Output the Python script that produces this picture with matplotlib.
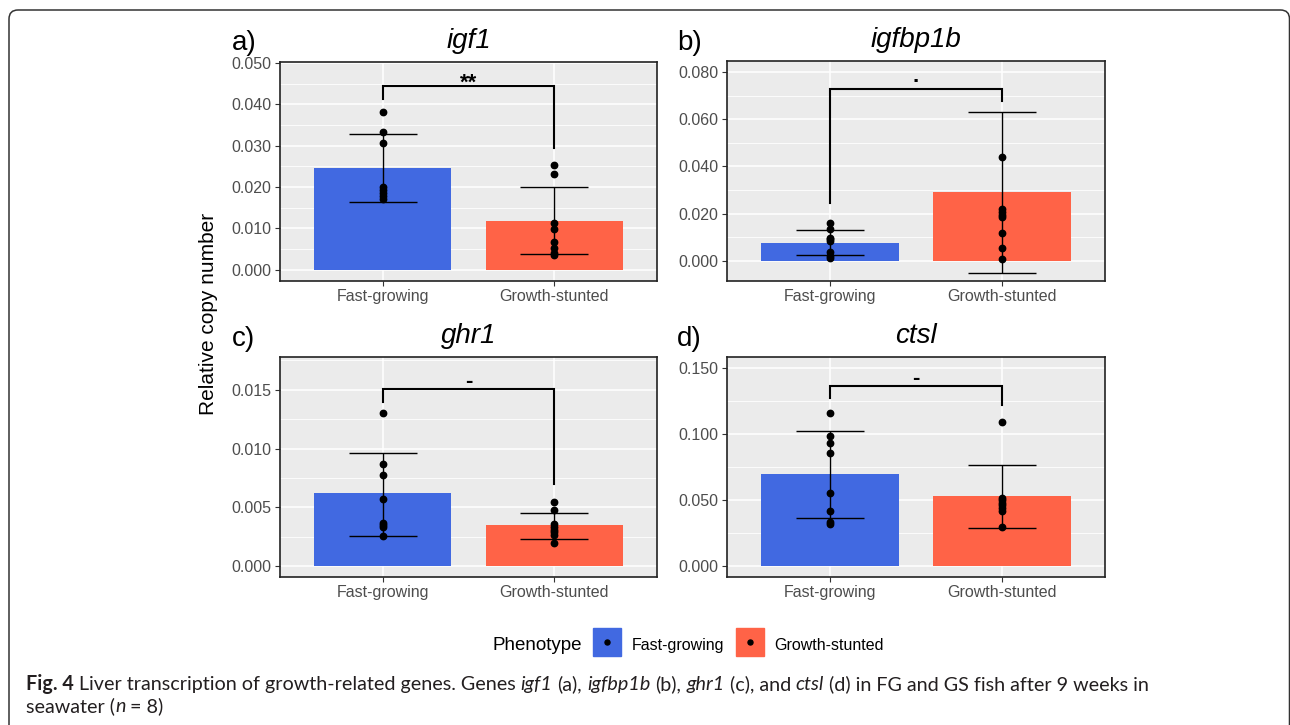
import numpy as np
import matplotlib
matplotlib.use("Agg")
import matplotlib.pyplot as plt
from matplotlib.patches import FancyBboxPatch
from matplotlib.lines import Line2D
from matplotlib.legend_handler import HandlerTuple

'''
Data read off the figure
'''
groups = ['Fast-growing', 'Growth-stunted']
genes = ['igf1', 'igfbp1b', 'ghr1', 'ctsl']
letters = ['a)', 'b)', 'c)', 'd)']
colors = ['#4169E1', '#FF6347']

# bar heights and error bar ends (FG, GS)
means = [[0.0246, 0.0119], [0.0074, 0.0290], [0.0062, 0.0035], [0.0698, 0.0531]]
err_lo = [[0.0163, 0.0038], [0.0023, -0.0051], [0.00256, 0.00233], [0.0369, 0.0291]]
err_hi = [[0.0328, 0.0201], [0.0129, 0.0629], [0.00966, 0.00454], [0.1024, 0.0766]]

# individual fish
fg_points = [
    [0.0381, 0.0333, 0.0307, 0.0200, 0.0192, 0.0185, 0.0178, 0.0170],
    [0.0158, 0.0133, 0.0098, 0.0090, 0.0084, 0.0035, 0.0020, 0.0010],
    [0.0130, 0.0087, 0.0078, 0.0057, 0.0037, 0.0035, 0.0033, 0.0026],
    [0.1159, 0.0989, 0.0935, 0.0855, 0.0556, 0.0417, 0.0337, 0.0319],
]
gs_points = [
    [0.0254, 0.0232, 0.0112, 0.0098, 0.0068, 0.0052, 0.0040, 0.0035],
    [0.0440, 0.0220, 0.0205, 0.0192, 0.0185, 0.0116, 0.0055, 0.0006],
    [0.0055, 0.0048, 0.0036, 0.0033, 0.0031, 0.0029, 0.0027, 0.0020],
    [0.1095, 0.0520, 0.0500, 0.0480, 0.0460, 0.0440, 0.0420, 0.0298],
]

# significance brackets: top, left leg end, right leg end, label
br_top = [0.0445, 0.0727, 0.01509, 0.1361]
br_left = [0.0413, 0.0246, 0.01395, 0.1273]
br_right = [0.0294, 0.0676, 0.00699, 0.1222]
br_label = ['**', '.', '-', '-']

# axis setup
ylims = [(-0.0027, 0.0502), (-0.0086, 0.0847), (-0.00091, 0.01779), (-0.0081, 0.1583)]
ystep = [0.01, 0.02, 0.005, 0.05]
ytop = [0.05, 0.08, 0.015, 0.15]

'''
Figure
'''
W, H = 1290, 725
plt.rcParams['font.family'] = ['Liberation Sans', 'DejaVu Sans']
fig = plt.figure(figsize=(W / 100, H / 100), dpi=100)

# rounded frame around the whole figure
frame = FancyBboxPatch((0.09, -0.5), 12.805, 7.65, boxstyle="round,pad=0,rounding_size=0.09",
                       transform=fig.dpi_scale_trans, facecolor='none', edgecolor='#333333',
                       linewidth=1.1, zorder=0)
fig.patches.append(frame)

boxes = [(280, 62, 657, 281), (727, 61, 1105, 281), (280, 357, 657, 577), (727, 357, 1105, 577)]
letter_pos = [(232, 50), (677, 50), (232, 346), (677, 346)]
label_off = {'**': -2.6, '.': 5.0, '-': 1.4}

x = np.array([1, 2])
for i in range(4):
    l, t, r, b = boxes[i]
    ax = fig.add_axes([l / W, 1 - b / H, (r - l) / W, (b - t) / H])
    ax.set_facecolor('#EBEBEB')
    ax.set_axisbelow(True)

    yt = np.arange(0, ytop[i] + ystep[i] / 2, ystep[i])
    ax.set_yticks(yt)
    ax.set_yticklabels(['%.3f' % v for v in yt])
    ax.set_yticks(np.arange(ystep[i] / 2, ylims[i][1], ystep[i]), minor=True)
    ax.set_ylim(ylims[i])
    ax.set_xlim(0.4, 2.6)
    ax.set_xticks(x)
    ax.set_xticklabels(groups)

    ax.grid(which='major', color='white', linewidth=1.1)
    ax.grid(which='minor', axis='y', color='white', linewidth=0.6)
    ax.tick_params(which='major', length=3.6, width=0.8, color='#333333',
                   labelsize=11.5, labelcolor='#4D4D4D', pad=2.5)
    ax.tick_params(which='minor', length=0)
    for s in ax.spines.values():
        s.set_color('#222222')
        s.set_linewidth(1.2)

    ax.bar(x, means[i], width=0.8, color=colors, zorder=2)
    # error bars: stem plus caps 0.4 wide
    ax.vlines(x, err_lo[i], err_hi[i], color='black', linewidth=1.0, zorder=3)
    ax.hlines(err_lo[i], x - 0.2, x + 0.2, color='black', linewidth=1.0, zorder=3)
    ax.hlines(err_hi[i], x - 0.2, x + 0.2, color='black', linewidth=1.0, zorder=3)
    ax.plot(np.full(len(fg_points[i]), 1), fg_points[i], 'o', color='black', ms=4.6, zorder=4)
    ax.plot(np.full(len(gs_points[i]), 2), gs_points[i], 'o', color='black', ms=4.6, zorder=4)

    ax.plot([1, 1, 2, 2], [br_left[i], br_top[i], br_top[i], br_right[i]], color='black',
            linewidth=1.5, solid_joinstyle='miter', zorder=5)
    ax.annotate(br_label[i], xy=(1.5, br_top[i]), xytext=(0, label_off[br_label[i]]),
                textcoords='offset points', ha='center', va='baseline', fontsize=16,
                fontweight='bold', color='black')

    ax.set_title(genes[i], fontsize=20, fontstyle='italic', pad=10)
    fig.text(letter_pos[i][0] / W, 1 - letter_pos[i][1] / H, letters[i], fontsize=20,
             ha='left', va='baseline')

fig.text(208 / W, 1 - 314 / H, 'Relative copy number', rotation=90, fontsize=15,
         ha='center', va='center')

# legend: coloured square key with a black dot in the middle
fig.text(493 / W, 1 - 646 / H, 'Phenotype', fontsize=13.5, ha='left', va='center')
handles = [(Line2D([], [], marker='s', color=c, markeredgecolor=c, linestyle='none', ms=20),
            Line2D([], [], marker='o', color='black', linestyle='none', ms=3.6)) for c in colors]
fig.legend(handles, groups, loc='center left', bbox_to_anchor=(593 / W, 1 - 645 / H),
           ncol=2, frameon=False, fontsize=11.5, handlelength=1.8, handleheight=1.75,
           handletextpad=0.62, columnspacing=0.7, borderpad=0, borderaxespad=0,
           handler_map={tuple: HandlerTuple(ndivide=1, pad=0)})

'''
Caption, set run by run
'''
cap_family = ['Lato', 'DejaVu Sans']
line1 = [("Fig. 4", 'normal', 'bold'),
         (" Liver transcription of growth-related genes. Genes ", 'normal', 'normal'),
         ("igf1", 'italic', 'normal'), (" (a), ", 'normal', 'normal'),
         ("igfbp1b", 'italic', 'normal'), (" (b), ", 'normal', 'normal'),
         ("ghr1", 'italic', 'normal'), (" (c), and ", 'normal', 'normal'),
         ("ctsl", 'italic', 'normal'),
         (" (d) in FG and GS fish after 9 weeks in", 'normal', 'normal')]
line2 = [("seawater (", 'normal', 'normal'), ("n", 'italic', 'normal'),
         (" = 8)", 'normal', 'normal')]

renderer = fig.canvas.get_renderer()


def advance(s, size, style, weight):
    kw = dict(fontsize=size, family=cap_family, style=style, weight=weight)
    a = fig.text(0, 0, 'x' + s + 'x', **kw)
    b = fig.text(0, 0, 'xx', **kw)
    w = a.get_window_extent(renderer).width - b.get_window_extent(renderer).width
    a.remove()
    b.remove()
    return w


def set_runs(runs, x0, y0, size, draw=True):
    xp = x0
    for s, style, weight in runs:
        core = s.strip()
        lead = len(s) - len(s.lstrip())
        trail = len(s) - len(s.rstrip())
        sp = advance(' ', size, style, weight)
        xp += lead * sp
        if draw:
            fig.text(xp / W, 1 - y0 / H, core, fontsize=size, family=cap_family, style=style,
                     weight=weight, ha='left', va='baseline', color='#231F20')
        xp += advance(core, size, style, weight) + trail * sp
    return xp - x0


base = 12
wid = set_runs(line1, 26, 690, base, draw=False)
cap_size = base * 1122 / wid
set_runs(line1, 26, 690, cap_size)
set_runs(line2, 26, 712, cap_size)

plt.savefig("out.png", dpi=100)
